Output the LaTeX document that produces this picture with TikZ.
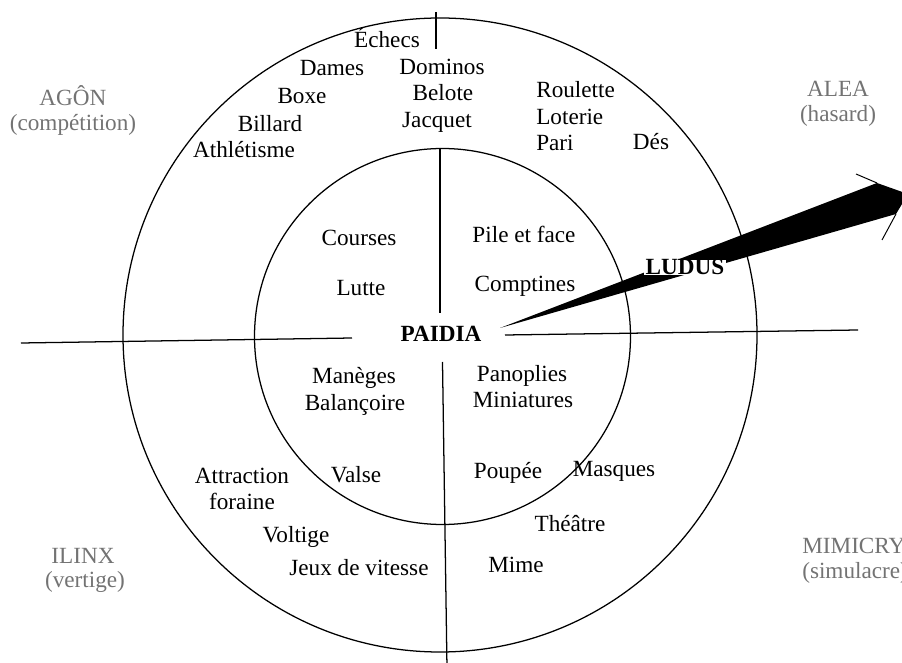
\documentclass[tikz,border=0pt]{standalone}
\usepackage{fontspec}
\setmainfont{Liberation Serif}
\tikzset{
	gamestyle/.style={anchor=base,inner sep=0pt},
	leftstyle/.style={anchor=base west,inner sep=0pt},
	polestyle/.style={anchor=base,inner sep=0pt,text=black!55},
	boldstyle/.style={anchor=base,inner sep=0pt,font=\bfseries},
	ringstyle/.style={draw=black,line width=0.9pt},
	axisstyle/.style={draw=black,line width=0.9pt}
}
\begin{document}
\begin{tikzpicture}
		\fontsize{16.5}{19}\selectfont
		\useasboundingbox (-11,-8.175) rectangle (11.55,8.4);
		\clip (-11,-8.175) rectangle (11.55,8.4);
		\draw[ringstyle] (0,0.025) circle (7.925);
		\draw[ringstyle] (0.0625,-0.0125) circle (4.7);
		\coordinate (hl1) at (-10.475,-0.175);
		\coordinate (hl2) at (-2.2,-0.05);
		\coordinate (hr1) at (1.625,0.025);
		\coordinate (hr2) at (10.45,0.15);
		\coordinate (vt1) at (-0.1,8.1);
		\coordinate (vt2) at (-0.1,7.175);
		\coordinate (vm1) at (0,4.7);
		\coordinate (vm2) at (0,0.575);
		\coordinate (vb1) at (0.0625,-0.65);
		\coordinate (vb2) at (0.175,-8.3);
		\draw[axisstyle] (hl1)--(hl2);
		\draw[axisstyle] (hr1)--(hr2);
		\draw[axisstyle] (vt1)--(vt2);
		\draw[axisstyle] (vm1)--(vm2);
		\draw[axisstyle] (vb1)--(vb2);
		\coordinate (apex) at (1.5,0.2);
		\coordinate (wtop) at (10.925,3.825);
		\coordinate (tip) at (11.7,3.55);
		\coordinate (wbot) at (11.4,3.05);
		\coordinate (barbtop) at (10.4,4.05);
		\coordinate (barbbot) at (11.05,2.4);
		\fill[black] (apex)--(wtop)--(tip)--(wbot)--cycle;
		\draw[line width=0.7pt] (barbtop)--(wtop);
		\draw[line width=0.7pt] (barbbot)--(wbot);
		\node[polestyle] (agon) at (-9.175,5.75) {AGÔN};
		\node[polestyle] (agon2) at (-9.175,5.125) {(compétition)};
		\node[polestyle] (alea) at (9.95,5.975) {ALEA};
		\node[polestyle] (alea2) at (9.95,5.35) {(hasard)};
		\node[polestyle] (ilinx) at (-8.925,-5.675) {ILINX};
		\node[polestyle] (ilinx2) at (-8.875,-6.275) {(vertige)};
		\node[polestyle,anchor=base west] (mimicry) at (9.05,-5.425) {MIMICRY};
		\node[polestyle,anchor=base west] (mimicry2) at (9.05,-6.05) {(simulacre)};
		\node[gamestyle] (echecs) at (-1.325,7.2) {Échecs};
		\node[gamestyle] (dames) at (-2.7,6.5) {Dames};
		\node[gamestyle] (dominos) at (0.05,6.525) {Dominos};
		\node[gamestyle] (boxe) at (-3.45,5.8) {Boxe};
		\node[gamestyle] (belote) at (0.075,5.875) {Belote};
		\node[gamestyle] (billard) at (-4.25,5.1) {Billard};
		\node[gamestyle] (jacquet) at (-0.075,5.2) {Jacquet};
		\node[gamestyle] (athletisme) at (-4.9,4.45) {Athlétisme};
		\node[leftstyle] (roulette) at (2.4,5.95) {Roulette};
		\node[leftstyle] (loterie) at (2.4,5.275) {Loterie};
		\node[leftstyle] (pari) at (2.4,4.625) {Pari};
		\node[gamestyle] (des) at (5.275,4.65) {Dés};
		\node[gamestyle] (courses) at (-2.025,2.25) {Courses};
		\node[gamestyle] (lutte) at (-1.975,1.0) {Lutte};
		\node[gamestyle] (pile) at (2.1,2.325) {Pile et face};
		\node[gamestyle] (comptines) at (2.125,1.1) {Comptines};
		\node[boldstyle,fill=white,inner xsep=1pt] (ludus) at (6.125,1.525) {LUDUS};
		\node[boldstyle] (paidia) at (0.025,-0.15) {PAIDIA};
		\node[gamestyle] (maneges) at (-2.15,-1.2) {Manèges};
		\node[gamestyle] (balancoire) at (-2.125,-1.875) {Balançoire};
		\node[gamestyle] (panoplies) at (2.05,-1.15) {Panoplies};
		\node[gamestyle] (miniatures) at (2.075,-1.8) {Miniatures};
		\node[gamestyle] (valse) at (-2.1,-3.65) {Valse};
		\node[gamestyle] (attraction) at (-4.95,-3.675) {Attraction};
		\node[gamestyle] (foraine) at (-4.95,-4.325) {foraine};
		\node[gamestyle] (voltige) at (-3.6,-5.15) {Voltige};
		\node[gamestyle] (vitesse) at (-2.025,-5.975) {Jeux de vitesse};
		\node[gamestyle] (poupee) at (1.7,-3.55) {Poupée};
		\node[gamestyle] (masques) at (4.35,-3.525) {Masques};
		\node[gamestyle] (theatre) at (3.25,-4.875) {Théâtre};
		\node[gamestyle] (mime) at (1.9,-5.9) {Mime};
		\end{tikzpicture}
\end{document}
